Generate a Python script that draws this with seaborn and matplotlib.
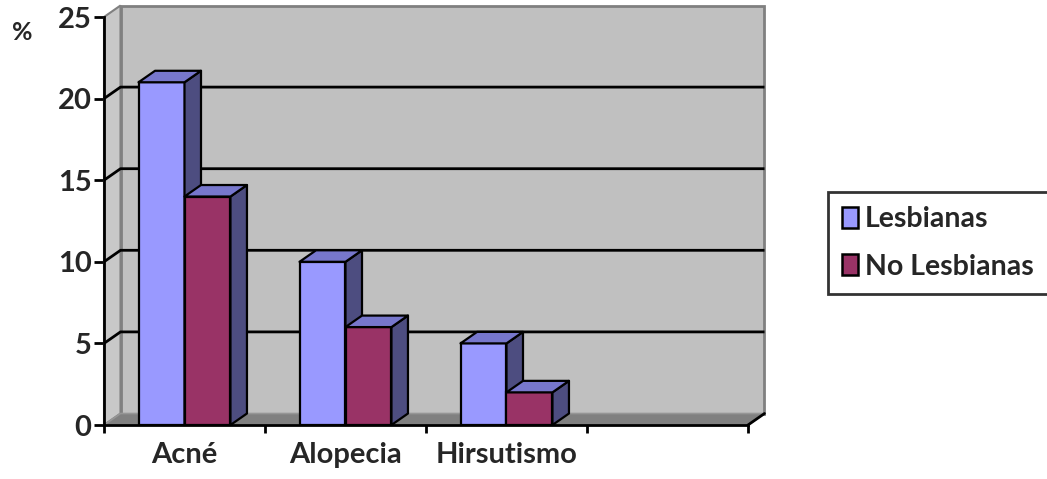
import matplotlib
matplotlib.use("Agg")
import matplotlib.pyplot as plt
from matplotlib.patches import Polygon, Patch, Rectangle
import seaborn as sns
import pandas as pd

categories = ["Acné", "Alopecia", "Hirsutismo"]
series_names = ["Lesbianas", "No Lesbianas"]
lesbianas = [21, 10, 5]
no_lesbianas = [14, 6, 2]
y_ticks = [0, 5, 10, 15, 20, 25]

front_colors = ["#9999FF", "#993366"]
top_colors = ["#7777CC", "#7A2952"]
side_colors = ["#4D4D80", "#4D1A33"]

df = pd.DataFrame({
    "cat": categories * 2,
    "serie": [series_names[0]] * 3 + [series_names[1]] * 3,
    "val": lesbianas + no_lesbianas,
})

sns.set_theme(style="white")
plt.rcParams["font.family"] = ["Lato", "DejaVu Sans"]
plt.rcParams["font.weight"] = "bold"

W, H = 1047, 479
fig = plt.figure(figsize=(W / 100, H / 100), dpi=100)
left_px, right_px, bottom_px, top_px = 104, 748, 425, 17
ax = fig.add_axes([left_px / W, (H - bottom_px) / H,
                   (right_px - left_px) / W, (bottom_px - top_px) / H])

sns.barplot(data=df, x="cat", y="val", hue="serie", order=categories,
            hue_order=series_names, palette=front_colors, width=0.571,
            ax=ax, legend=False, edgecolor="black", linewidth=1.6,
            saturation=1)
bar_patches = [p for p in ax.patches if isinstance(p, Rectangle) and p.get_height() > 0]

ax.set_xlim(-0.5, 3.5)
ax.set_ylim(0, 25)

# depth offsets in data units
cat_px = (right_px - left_px) / 4.0
val_px = (bottom_px - top_px) / 25.0
dx = 16.5 / cat_px
dy = 11.5 / val_px
x0, x1 = -0.5, 3.5

# back wall
ax.add_patch(Polygon([(x0 + dx, dy), (x1 + dx, dy), (x1 + dx, 25 + dy), (x0 + dx, 25 + dy)],
                     closed=True, facecolor="#C0C0C0", edgecolor="#808080",
                     linewidth=2, zorder=0.5, clip_on=False))
# left side wall
ax.add_patch(Polygon([(x0, 0), (x0 + dx, dy), (x0 + dx, 25 + dy), (x0, 25)],
                     closed=True, facecolor="#C8C8C8", edgecolor="#808080",
                     linewidth=1.5, zorder=0.6, clip_on=False))
# floor
ax.add_patch(Polygon([(x0, 0), (x1, 0), (x1 + dx, dy), (x0 + dx, dy)],
                     closed=True, facecolor="#808080", edgecolor="#969696",
                     linewidth=1.2, zorder=0.7, clip_on=False))
# gridlines: diagonal on side wall + horizontal on back wall
for v in y_ticks[1:-1]:
    ax.plot([x0, x0 + dx, x1 + dx], [v, v + dy, v + dy], color="black",
            linewidth=2, zorder=0.8, clip_on=False, solid_capstyle="butt")
# right floor edge
ax.plot([x1, x1 + dx], [0, dy], color="black", linewidth=2, zorder=0.9, clip_on=False)

# 3D faces of bars
bars = sorted(bar_patches, key=lambda p: p.get_x())
for i, b in enumerate(bars):
    bx, bw, bh = b.get_x(), b.get_width(), b.get_height()
    k = 0 if abs(b.get_facecolor()[0] - 0.6) < 0.05 else 1
    z = 3 + i * 0.1
    b.set_zorder(z)
    side = Polygon([(bx + bw, 0), (bx + bw + dx, dy), (bx + bw + dx, bh + dy), (bx + bw, bh)],
                   closed=True, facecolor=side_colors[k], edgecolor="black",
                   linewidth=1.6, zorder=z, clip_on=False, joinstyle="round")
    top = Polygon([(bx, bh), (bx + bw, bh), (bx + bw + dx, bh + dy), (bx + dx, bh + dy)],
                  closed=True, facecolor=top_colors[k], edgecolor="black",
                  linewidth=1.6, zorder=z, clip_on=False, joinstyle="round")
    ax.add_patch(side)
    ax.add_patch(top)

# axes styling
ax.set_facecolor("none")
for s in ["top", "right"]:
    ax.spines[s].set_visible(False)
for s in ["left", "bottom"]:
    ax.spines[s].set_color("black")
    ax.spines[s].set_linewidth(2)
    ax.spines[s].set_zorder(10)
ax.set_yticks(y_ticks)
ax.set_yticklabels([str(v) for v in y_ticks])
ax.tick_params(axis="y", direction="out", length=7, width=2, color="black",
               labelsize=21, pad=2, left=True)
ax.set_xticks(range(len(categories)))
ax.set_xticklabels(categories)
ax.set_xticks([-0.5, 0.5, 1.5, 2.5, 3.5], minor=True)
ax.tick_params(axis="x", which="major", length=0, labelsize=21, pad=12)
ax.tick_params(axis="x", which="minor", direction="out", length=6, width=2,
               color="black", bottom=True)
for t in ax.get_xticklabels() + ax.get_yticklabels():
    t.set_fontweight("bold")
ax.set_xlabel("")
ax.set_ylabel("")

fig.text(22 / W, 1 - 33 / H, "%", fontsize=18, fontweight="bold",
         ha="center", va="center")

handles = [Patch(facecolor=front_colors[i], edgecolor="black", linewidth=1.8)
           for i in range(2)]
leg = fig.legend(handles, series_names, loc="upper left",
                 bbox_to_anchor=(828 / W, 1 - 192 / H), frameon=True,
                 fancybox=False, edgecolor="black",
                 prop={"weight": "bold", "size": 20.5},
                 handlelength=0.55, handleheight=0.75, handletextpad=0.25,
                 labelspacing=0.75, borderpad=0.5, borderaxespad=0)
leg.get_frame().set_linewidth(2)

fig.savefig("out.png", dpi=100, facecolor="white")
